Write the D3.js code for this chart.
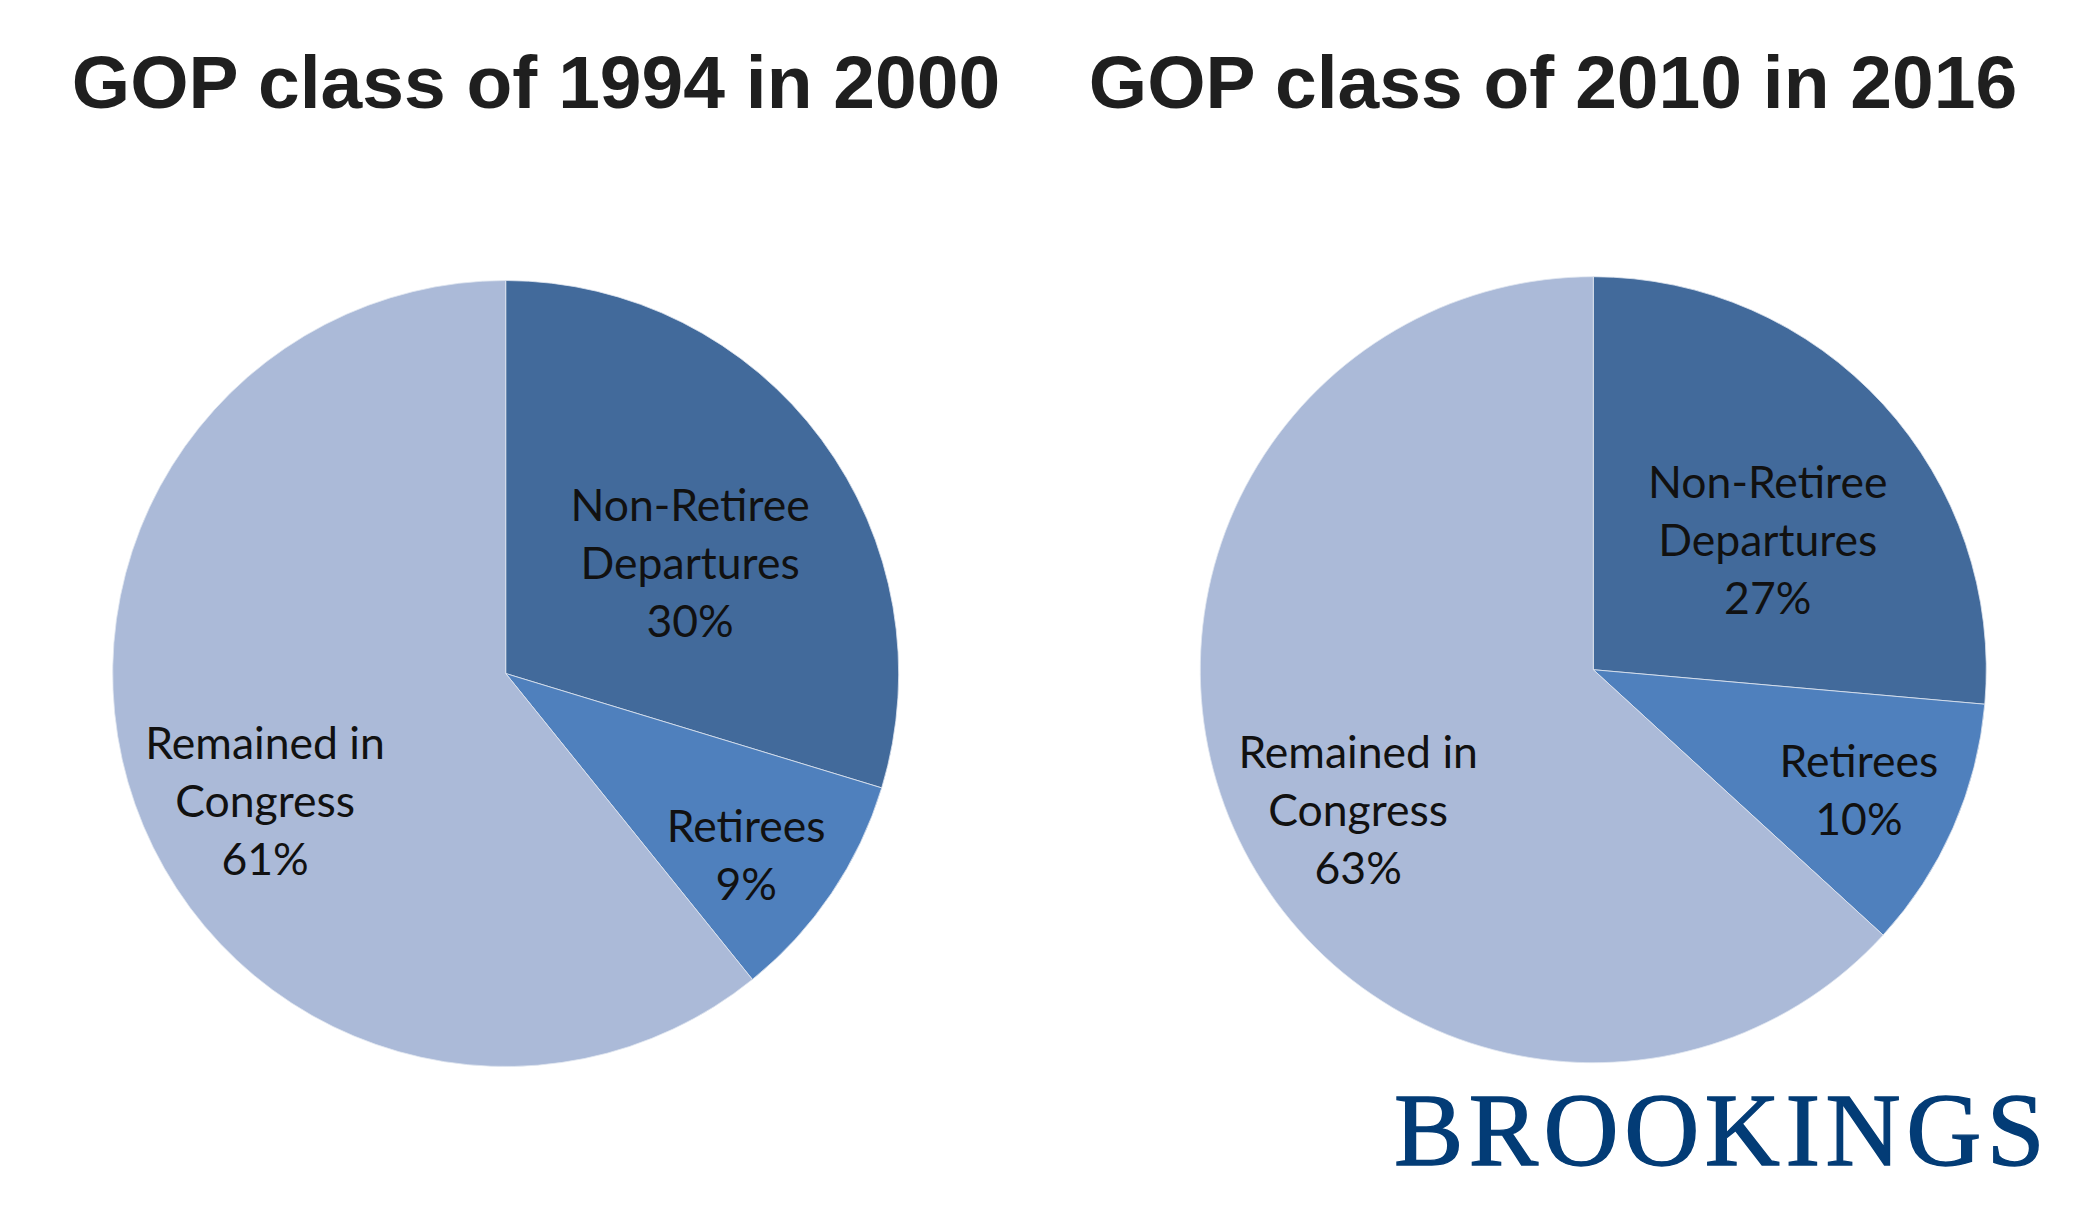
<!DOCTYPE html>
<html>
<head>
<meta charset="utf-8">
<script src="https://cdn.jsdelivr.net/npm/d3@7"></script>
<style>
html,body{margin:0;padding:0;background:#fff;}
svg{display:block;}
</style>
</head>
<body>
<svg id="chart" width="2100" height="1219"></svg>
<script>
// ---- data ----
const categories = ["Non-Retiree Departures", "Retirees", "Remained in Congress"];
const labelLines = [["Non-Retiree", "Departures"], ["Retirees"], ["Remained in", "Congress"]];
const titles = ["GOP class of 1994 in 2000", "GOP class of 2010 in 2016"];
// slice shares
const values1994 = [29.7, 9.5, 60.8];
const values2010 = [26.4, 10.4, 63.2];
// percentages as printed on the chart
const labels1994 = ["30%", "9%", "61%"];
const labels2010 = ["27%", "10%", "63%"];

// ---- styles / layout ----
const colors = ["#426a9b", "#4f80bd", "#abbad8"];
const pies = [
  {values: values1994, labels: labels1994, title: titles[0], cx: 505.7, cy: 673.5, r: 393, titleX: 536,
   lab: [{da: 5.8, rf: 0.546}, {da: 3.15, rf: 0.768}, {da: -8.65, rf: 0.694}]},
  {values: values2010, labels: labels2010, title: titles[1], cx: 1593.3, cy: 669.7, r: 393, titleX: 1553,
   lab: [{da: 6.0, rf: 0.552}, {da: 0.6, rf: 0.742}, {da: -7.1, rf: 0.697}]}
];

const svg = d3.select("#chart");
const pieGen = d3.pie().sort(null).value(d => d);
const lineH = 58;

pies.forEach(p => {
  svg.append("text")
    .attr("x", p.titleX).attr("y", 108)
    .attr("text-anchor", "middle")
    .attr("font-family", "Liberation Sans, Arial, sans-serif")
    .attr("font-weight", "bold")
    .attr("font-size", 75)
    .attr("fill", "#1f1f1f")
    .text(p.title);

  const g = svg.append("g").attr("transform", `translate(${p.cx},${p.cy})`);
  const arc = d3.arc().innerRadius(0).outerRadius(p.r);
  const arcs = pieGen(p.values);

  g.selectAll("path").data(arcs).join("path")
    .attr("d", arc)
    .attr("fill", (d, i) => colors[i])
    .attr("stroke", "#dfe6f0")
    .attr("stroke-width", 0.8);

  arcs.forEach((d, i) => {
    const mid = (d.startAngle + d.endAngle) / 2 + p.lab[i].da * Math.PI / 180;
    const rr = p.r * p.lab[i].rf;
    const x = Math.sin(mid) * rr;
    const y = -Math.cos(mid) * rr;
    const lines = labelLines[i].concat([p.labels[i]]);
    const t = g.append("text")
      .attr("text-anchor", "middle")
      .attr("font-family", "Lato, 'Open Sans', sans-serif")
      .attr("font-size", 44.5)
      .attr("fill", "#111");
    lines.forEach((ln, k) => {
      t.append("tspan")
        .attr("x", x)
        .attr("y", y + (k - (lines.length - 1) / 2) * lineH)
        .attr("dy", "0.35em")
        .text(ln);
    });
  });
});

svg.append("text")
  .attr("x", 1722).attr("y", 1165)
  .attr("text-anchor", "middle")
  .attr("font-family", "Liberation Serif, 'Times New Roman', serif")
  .attr("font-size", 104)
  .attr("letter-spacing", 5.5)
  .attr("fill", "#033c76")
  .attr("stroke", "#033c76")
  .attr("stroke-width", 1.4)
  .text("BROOKINGS");
</script>
</body>
</html>
